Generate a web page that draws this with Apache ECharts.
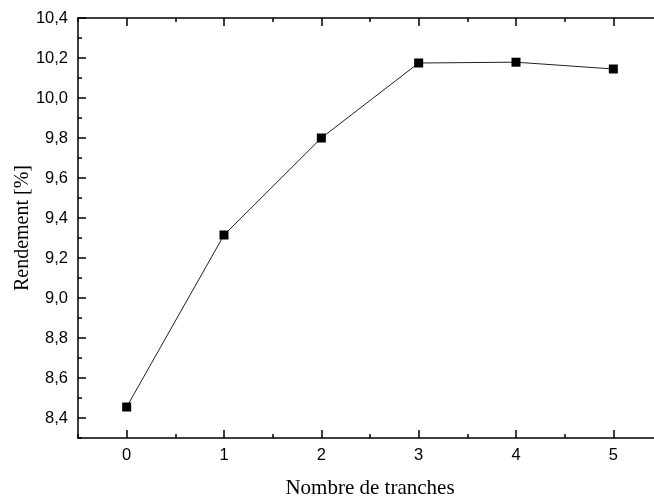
<!DOCTYPE html>
<html>
<head>
<meta charset="utf-8">
<script src="https://cdn.jsdelivr.net/npm/echarts@6/dist/echarts.min.js"></script>
<style>
  html, body { margin: 0; padding: 0; background: #fff; }
  #chart { width: 654px; height: 502px; }
</style>
</head>
<body>
<div id="chart"></div>
<script>
// valeurs
var tranches = [0, 1, 2, 3, 4, 5];
var rendement = [8.455, 9.315, 9.80, 10.175, 10.179, 10.145];

// graduations
var xMajor = [0, 1, 2, 3, 4, 5];
var xMinor = [-0.5, 0.5, 1.5, 2.5, 3.5, 4.5, 5.5];
var yMajor = [8.4, 8.6, 8.8, 9.0, 9.2, 9.4, 9.6, 9.8, 10.0, 10.2, 10.4];
var yMinor = [8.3, 8.5, 8.7, 8.9, 9.1, 9.3, 9.5, 9.7, 9.9, 10.1, 10.3];

var chart = echarts.init(document.getElementById('chart'), null, { renderer: 'canvas' });

var lineCol = '#000';
var tickFont = 'Liberation Sans, Arial, sans-serif';
var titleFont = 'Liberation Serif, Times New Roman, serif';

// axe x (bas/haut, majeur/mineur)
function xAx(pos, ticks, len, showLine, showLabel) {
  return {
    type: 'value', position: pos, min: -0.5, max: 5.5,
    axisLine: { show: showLine, onZero: false, lineStyle: { color: lineCol, width: 1.5 } },
    axisTick: { show: true, inside: true, length: len, customValues: ticks,
                lineStyle: { color: lineCol, width: 1.5 } },
    axisLabel: { show: showLabel, customValues: ticks, margin: 9,
                 color: '#000', fontSize: 16.5, fontFamily: tickFont },
    splitLine: { show: false }
  };
}
function yAx(pos, ticks, len, showLine, showLabel) {
  return {
    type: 'value', position: pos, min: 8.3, max: 10.4,
    axisLine: { show: showLine, onZero: false, lineStyle: { color: lineCol, width: 1.5 } },
    axisTick: { show: true, inside: true, length: len, customValues: ticks,
                lineStyle: { color: lineCol, width: 1.5 } },
    axisLabel: { show: showLabel, customValues: ticks, margin: 10,
                 color: '#000', fontSize: 16.5, fontFamily: tickFont,
                 formatter: function (v) { return v.toFixed(1).replace('.', ','); } },
    splitLine: { show: false }
  };
}

var xBottom = xAx('bottom', xMajor, 8, true, true);
xBottom.name = 'Nombre de tranches';
xBottom.nameLocation = 'middle';
xBottom.nameGap = 40;
xBottom.nameTextStyle = { color: '#000', fontSize: 21, fontFamily: titleFont };

var yLeft = yAx('left', yMajor, 8, true, true);
yLeft.name = 'Rendement [%]';
yLeft.nameLocation = 'middle';
yLeft.nameGap = 45;
yLeft.nameMoveOverlap = false;
yLeft.nameTextStyle = { color: '#000', fontSize: 20, fontFamily: titleFont };

var option = {
  animation: false,
  backgroundColor: '#fff',
  // l'axe de droite tombe juste hors du cadre, comme sur l'original
  grid: { left: 78, right: -8, top: 18, bottom: 64, containLabel: false, outerBoundsMode: 'none' },
  xAxis: [
    xBottom,
    xAx('bottom', xMinor, 4, false, false),
    xAx('top', xMajor, 8, true, false),
    xAx('top', xMinor, 4, false, false)
  ],
  yAxis: [
    yLeft,
    yAx('left', yMinor, 4, false, false),
    yAx('right', yMajor, 8, true, false),
    yAx('right', yMinor, 4, false, false)
  ],
  series: [{
    type: 'line',
    xAxisIndex: 0,
    yAxisIndex: 0,
    data: tranches.map(function (t, i) { return [t, rendement[i]]; }),
    symbol: 'rect',
    symbolSize: 9,
    itemStyle: { color: '#000' },
    lineStyle: { color: '#222', width: 1 }
  }]
};

chart.setOption(option);
</script>
</body>
</html>
